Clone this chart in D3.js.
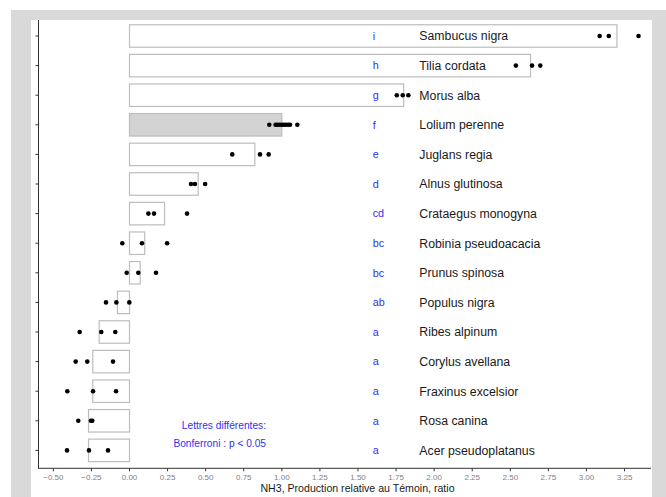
<!DOCTYPE html>
<html><head><meta charset="utf-8">
<script src="https://cdn.jsdelivr.net/npm/d3@7"></script>
<style>body{margin:0;background:#fff}svg{display:block}text{font-family:"Liberation Sans",Arial,sans-serif}</style>
</head><body><svg id="c" width="666" height="497"></svg>
<script>
const species = ["Sambucus nigra","Tilia cordata","Morus alba","Lolium perenne","Juglans regia","Alnus glutinosa","Crataegus monogyna","Robinia pseudoacacia","Prunus spinosa","Populus nigra","Ribes alpinum","Corylus avellana","Fraxinus excelsior","Rosa canina","Acer pseudoplatanus"];
const letters = ["i","h","g","f","e","d","cd","bc","bc","ab","a","a","a","a","a"];
const means = [3.20,2.633,1.80,1.00,0.823,0.451,0.23,0.10,0.07,-0.079,-0.199,-0.241,-0.241,-0.269,-0.269];
const points = [
  [3.09,3.15,3.345],
  [2.54,2.646,2.70],
  [1.758,1.797,1.834],
  [0.921,0.962,0.975,0.99,1.003,1.017,1.03,1.045,1.057,1.105],
  [0.678,0.86,0.917],
  [0.407,0.433,0.50],
  [0.127,0.164,0.381],
  [-0.044,0.085,0.25],
  [-0.015,0.061,0.177],
  [-0.151,-0.083,0.002],
  [-0.324,-0.182,-0.09],
  [-0.35,-0.274,-0.105],
  [-0.405,-0.236,-0.085],
  [-0.333,-0.25,-0.241],
  [-0.407,-0.263,-0.138]
];
const xTicks = [-0.5,-0.25,0,0.25,0.5,0.75,1,1.25,1.5,1.75,2,2.25,2.5,2.75,3,3.25];
const controlSpecies = "Lolium perenne";
const xTitle = "NH3, Production relative au Témoin, ratio";
const legendLines = ["Lettres différentes:","Bonferroni : p < 0.05"];

const svg = d3.select("#c");
svg.append("rect").attr("x",11).attr("y",10).attr("width",655).attr("height",487).attr("fill","#d9d9d9");
svg.append("rect").attr("x",31).attr("y",20).attr("width",621).attr("height",477).attr("fill","#fff");

const x = d3.scaleLinear().domain([-0.5975,3.427]).range([38,651]);
const y = d3.scaleBand().domain(species).range([21.2,465.2]);
const bh = y.step()*0.76;
const cy = s => y(s)+y.bandwidth()/2;
const blue = "#2f2ff2";

const g = svg.append("g");
g.selectAll("rect.bar").data(species).join("rect").attr("class","bar")
  .attr("x",(s,i)=>x(Math.min(0,means[i]))+0.5)
  .attr("width",(s,i)=>Math.abs(x(means[i])-x(0)))
  .attr("y",s=>cy(s)-bh/2).attr("height",bh)
  .attr("fill",s=>s===controlSpecies?"#d3d3d3":"#fff")
  .attr("stroke","#bdbdbd").attr("stroke-width",1.2);

species.forEach((s,i)=>{
  g.selectAll(null).data(points[i]).join("circle")
    .attr("cx",d=>x(d)).attr("cy",cy(s)).attr("r",2.3).attr("fill","#000");
});

g.selectAll("text.let").data(species).join("text").attr("class","let")
  .attr("x",372.7).attr("y",s=>cy(s)).attr("dy","0.36em")
  .attr("font-size",10.8).attr("fill",blue).text((s,i)=>letters[i]);
g.selectAll("text.sp").data(species).join("text").attr("class","sp")
  .attr("x",419.3).attr("y",s=>cy(s)).attr("dy","0.36em")
  .attr("font-size",12.3).attr("fill","#1a1a1a").text(s=>s);

svg.append("text").attr("x",266).attr("y",425.7).attr("dy","0.36em").attr("text-anchor","end")
  .attr("font-size",10.2).attr("fill",blue).text(legendLines[0]);
svg.append("text").attr("x",266).attr("y",443.3).attr("dy","0.36em").attr("text-anchor","end")
  .attr("font-size",10.2).attr("fill",blue).text(legendLines[1]);

// y axis
const ya = svg.append("g").attr("transform","translate(38.5,0)")
  .call(d3.axisLeft(y).tickSize(3).tickFormat(""));
ya.select(".domain").attr("d","M0,20V468.3").attr("stroke","#333");
ya.selectAll(".tick line").attr("stroke","#333");

// x axis
const xa = svg.append("g").attr("transform","translate(0,468.3)")
  .call(d3.axisBottom(x).tickValues(xTicks).tickSize(3).tickPadding(3).tickFormat(d3.format(".2f")));
xa.select(".domain").attr("d","M38,0H651").attr("stroke","#333");
xa.selectAll(".tick line").attr("stroke","#333");
xa.selectAll(".tick text").attr("font-size",8).attr("fill","#7f7f7f").attr("font-family","'Liberation Sans',Arial,sans-serif");

svg.append("text").attr("x",357.5).attr("y",488.3).attr("dy","0.36em").attr("text-anchor","middle")
  .attr("font-size",10.6).attr("fill","#1a1a1a").text(xTitle);
</script></body></html>
